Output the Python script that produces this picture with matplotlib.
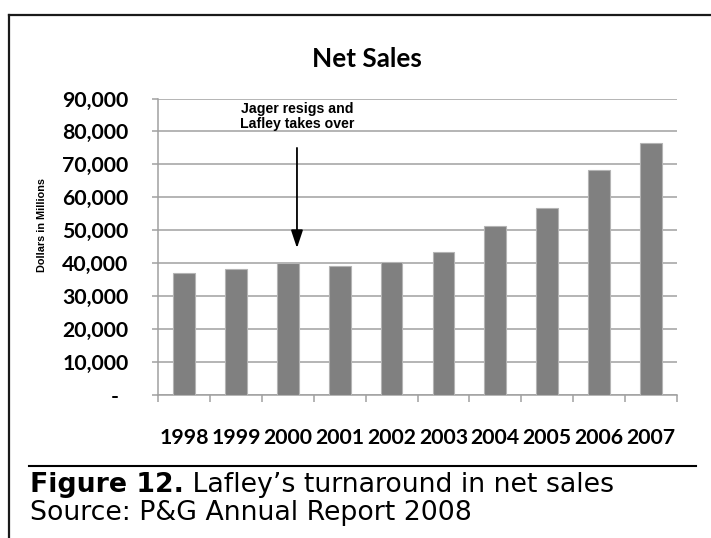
import matplotlib
matplotlib.use('Agg')
import matplotlib.pyplot as plt
from matplotlib.lines import Line2D
from matplotlib.ticker import FixedLocator, FuncFormatter
from matplotlib.transforms import ScaledTranslation

# ─── Datos ──────────────────────────────────────────────────────────────────
years = ['1998', '1999', '2000', '2001', '2002',
         '2003', '2004', '2005', '2006', '2007']
net_sales = [37154, 38125, 39951, 39244, 40238,
             43377, 51407, 56741, 68222, 76476]   # millones de USD

title = 'Net Sales'
y_label = 'Dollars in Millions'
note = 'Jager resigs and\nLafley takes over'
caption_bold = 'Figure 12.'
caption_rest = ' Lafley\u2019s turnaround in net sales'
source = 'Source: P&G Annual Report 2008'

W, H = 711, 538
CAL = 'Lato'
GRID = '#a0a0a0'


def fx(px):
    return px / W


def fy(py):
    return 1 - py / H


fig = plt.figure(figsize=(W / 100, H / 100), dpi=100)
fig.patch.set_facecolor('white')

ax = fig.add_axes([fx(158.3), fy(395), (676.7 - 158.3) / W, (395 - 98.5) / H])
x = list(range(len(years)))
ax.bar(x, net_sales, width=0.42, color='#808080',
       edgecolor='#b4b4b4', linewidth=0.8, zorder=3)

ax.set_xlim(-0.5, len(years) - 0.5)
ax.set_ylim(0, 90000)
ax.set_yticks(range(0, 90001, 10000))
ax.yaxis.set_major_formatter(FuncFormatter(lambda v, _: '-' if v == 0 else f'{v:,.0f}'))
ax.grid(axis='y', color=GRID, lw=1.1, zorder=0)

ax.set_xticks(x)
ax.set_xticklabels(years)
ax.xaxis.set_minor_locator(FixedLocator([i - 0.5 for i in range(len(years) + 1)]))
ax.tick_params(axis='x', which='major', length=0, pad=24)
ax.tick_params(axis='x', which='minor', length=5, width=1.1, color=GRID)
ax.tick_params(axis='y', length=4.5, width=1.1, color=GRID, pad=17)

for s in ('top', 'right'):
    ax.spines[s].set_visible(False)
for s in ('left', 'bottom'):
    ax.spines[s].set_color(GRID)
    ax.spines[s].set_linewidth(1.1)

for lbl in ax.get_xticklabels() + ax.get_yticklabels():
    lbl.set_fontfamily(CAL)
    lbl.set_fontweight('bold')
    lbl.set_fontsize(15.3)

# el "-" del cero va un poco a la izquierda (formato contable)
zero = ax.yaxis.get_major_ticks()[0].label1
zero.set_transform(zero.get_transform() + ScaledTranslation(-0.10, 0, fig.dpi_scale_trans))

# ─── Anotación ──────────────────────────────────────────────────────────────
ax.annotate('', xy=(2.175, 44600), xytext=(2.175, 75000),
            arrowprops=dict(arrowstyle='-|>,head_length=0.6,head_width=0.2',
                            mutation_scale=18, lw=1.3, color='black',
                            shrinkA=0, shrinkB=0), zorder=5)
ax.text(2.175, 84500, note, ha='center', va='center', fontsize=10.2,
        fontweight='bold', family='Liberation Sans', linespacing=1.15, zorder=5)

# ─── Textos de figura ───────────────────────────────────────────────────────
fig.text(fx(367), fy(66.7), title, ha='center', va='baseline',
         family=CAL, fontweight='bold', fontsize=18.8)
fig.text(fx(42), fy(224.5), y_label, rotation=90, ha='center', va='center',
         family='Liberation Sans', fontweight='bold', fontsize=7.8)

# marco
fig.add_artist(Line2D([fx(8.5), fx(8.5)], [fy(15), 0], color='#1a1a1a', lw=1.6))
fig.add_artist(Line2D([fx(8.5), 1], [fy(15), fy(15)], color='#1a1a1a', lw=1.6))
fig.add_artist(Line2D([fx(29), fx(696)], [fy(466), fy(466)], color='black', lw=1.5))

# pie de figura: la primera línea ocupa de x=30 a x=612 en el original
fs = 14.8
t1 = fig.text(fx(30), fy(492.5), caption_bold, ha='left', va='baseline',
              family='DejaVu Sans', fontweight='bold', fontsize=fs)
t2 = fig.text(0, fy(492.5), caption_rest, ha='left', va='baseline',
              family='DejaVu Sans', fontsize=fs)
r = fig.canvas.get_renderer()
w = t1.get_window_extent(r).width + t2.get_window_extent(r).width
fs = fs * (612 - 30) / w
t1.set_fontsize(fs)
t2.set_fontsize(fs)
t2.set_x((30 + t1.get_window_extent(r).width) / W)
fig.text(fx(30), fy(520.5), source, ha='left', va='baseline',
         family='DejaVu Sans', fontsize=fs)

fig.savefig('out.png', dpi=100)
